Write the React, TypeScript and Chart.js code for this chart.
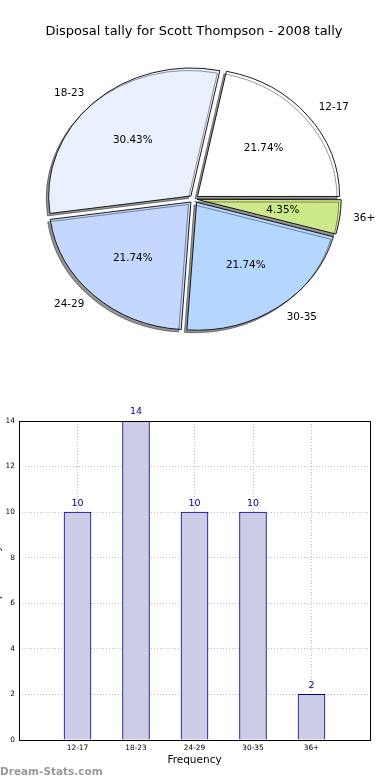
import React, { useEffect, useRef } from 'react';
import { Chart, registerables } from 'chart.js';

Chart.register(...registerables);

// ---- data ----
const categories = ['12-17', '18-23', '24-29', '30-35', '36+'];
const tallies = [10, 14, 10, 10, 2];
const sliceColors = ['#ffffff', '#e9f1ff', '#c3d7ff', '#b4d6ff', '#ccea89'];
const yTicks = [0, 2, 4, 6, 8, 10, 12, 14];
const chartTitle = 'Disposal tally for Scott Thompson - 2008 tally';
const xTitle = 'Frequency';
const yTitle = 'Disposal tally';
const watermark = 'Dream-Stats.com';

const FONT = "'DejaVu Sans', sans-serif";
const PIE_SQUASH = 0.9;
// chart.js arc offset per slice (moves slice by offset/4 px), in original category order
const sliceOffsets = [18, 18, 18, 18, 12];

// pie drawn counter-clockwise from 3 o'clock (as in the original) -> reverse order, clockwise
const pieOrder = categories.map((_, i) => categories.length - 1 - i);
const pieLabels = pieOrder.map((i) => categories[i]);
const pieValues = pieOrder.map((i) => tallies[i]);
const pieColors = pieOrder.map((i) => sliceColors[i]);
const pieOffsets = pieOrder.map((i) => sliceOffsets[i]);

const barLabels = ['', ...categories, ''];
const barValues: (number | null)[] = [null, ...tallies, null];

const piePlugin = {
  id: 'pieStyle',
  beforeDatasetsDraw(chart: any) {
    const ctx = chart.ctx;
    const arc = chart.getDatasetMeta(0).data[0];
    const cx = arc.x;
    const cy = arc.y;
    ctx.save();
    ctx.translate(cx, cy);
    ctx.scale(1, PIE_SQUASH);
    ctx.translate(-cx, -cy);
    ctx.shadowColor = 'rgba(0,0,0,0.42)';
    ctx.shadowOffsetX = -2.5;
    ctx.shadowOffsetY = 2.5;
    ctx.shadowBlur = 0;
  },
  afterDatasetsDraw(chart: any) {
    const ctx = chart.ctx;
    ctx.restore();
    const meta = chart.getDatasetMeta(0);
    const total = pieValues.reduce((a, b) => a + b, 0);
    ctx.save();
    ctx.font = `10.4px ${FONT}`;
    ctx.fillStyle = '#000';
    ctx.textBaseline = 'middle';
    meta.data.forEach((arc: any, i: number) => {
      const t = 4.5;
      const mid = (arc.startAngle + arc.endAngle) / 2;
      const c = Math.cos(mid);
      const s = Math.sin(mid);
      const R = arc.outerRadius;
      const lr = R * 1.1 + t;
      const pr = R * 0.6 + t;
      ctx.textAlign = c >= 0 ? 'left' : 'right';
      ctx.fillText(pieLabels[i], arc.x + c * lr, arc.y + s * lr * PIE_SQUASH);
      ctx.textAlign = 'center';
      const pct = ((pieValues[i] / total) * 100).toFixed(2) + '%';
      ctx.fillText(pct, arc.x + c * pr, arc.y + s * pr * PIE_SQUASH);
    });
    ctx.restore();
  },
};

const barPlugin = {
  id: 'barDeco',
  afterDatasetsDraw(chart: any) {
    const ctx = chart.ctx;
    const meta = chart.getDatasetMeta(0);
    ctx.save();
    ctx.font = `9.5px ${FONT}`;
    ctx.fillStyle = '#00008b';
    ctx.textAlign = 'center';
    ctx.textBaseline = 'middle';
    meta.data.forEach((bar: any, i: number) => {
      const v = barValues[i];
      if (v == null) return;
      ctx.fillText(String(v), bar.x, bar.y - 9);
    });
    ctx.restore();
  },
  afterDraw(chart: any) {
    const { ctx, chartArea: a } = chart;
    ctx.save();
    ctx.strokeStyle = '#000';
    ctx.lineWidth = 1;
    ctx.strokeRect(Math.round(a.left) + 0.5, Math.round(a.top) + 0.5, Math.round(a.right - a.left), Math.round(a.bottom - a.top));
    ctx.restore();
  },
};

export default function App() {
  const pieRef = useRef<HTMLCanvasElement>(null);
  const barRef = useRef<HTMLCanvasElement>(null);

  useEffect(() => {
    const pie = new Chart(pieRef.current as HTMLCanvasElement, {
      type: 'pie',
      data: {
        labels: pieLabels,
        datasets: [
          {
            data: pieValues,
            backgroundColor: pieColors,
            borderColor: '#111',
            borderWidth: 1,
            offset: pieOffsets,
          } as any,
        ],
      },
      options: {
        animation: false,
        responsive: false,
        events: [],
        rotation: 90,
        radius: 142,
        layout: { padding: { left: 0, right: 2, top: 0, bottom: 41.8 } },
        plugins: {
          legend: { display: false },
          tooltip: { enabled: false },
          title: {
            display: true,
            text: chartTitle,
            color: '#000',
            font: { family: FONT, size: 13, weight: 'normal' },
            padding: { top: 24.2, bottom: 0 },
          },
        },
      } as any,
      plugins: [piePlugin],
    });

    const bar = new Chart(barRef.current as HTMLCanvasElement, {
      type: 'bar',
      data: {
        labels: barLabels,
        datasets: [
          {
            data: barValues,
            backgroundColor: '#ccccе6'.replace('е', 'e'),
            borderColor: '#000088',
            borderWidth: 1,
            barThickness: 27,
          } as any,
        ],
      },
      options: {
        animation: false,
        responsive: false,
        events: [],
        layout: { padding: { top: 21, right: 20, bottom: 9, left: 0 } },
        plugins: {
          legend: { display: false },
          tooltip: { enabled: false },
        },
        scales: {
          x: {
            offset: false,
            z: 1,
            grid: { offset: false, drawTicks: false, color: '#bdbdbd', lineWidth: 1 },
            border: { display: false, dash: [1, 2] },
            ticks: { font: { family: FONT, size: 7.4 }, color: '#000', padding: 4, autoSkip: false, maxRotation: 0 },
            title: {
              display: true,
              text: xTitle,
              color: '#000',
              font: { family: FONT, size: 10.5 },
              padding: { top: 0, bottom: 4 },
            },
            afterFit: (s: any) => {
              s.height = 31;
            },
          },
          y: {
            min: 0,
            max: 14,
            z: 1,
            grid: { drawTicks: false, color: '#bdbdbd', lineWidth: 1 },
            border: { display: false, dash: [1, 2] },
            ticks: { font: { family: FONT, size: 7.4 }, color: '#000', padding: 4 },
            afterBuildTicks: (s: any) => {
              s.ticks = yTicks.map((v) => ({ value: v }));
            },
            title: {
              display: true,
              text: yTitle,
              color: '#000',
              font: { family: FONT, size: 10.5 },
              padding: { top: 3, bottom: 3 },
            },
            afterFit: (s: any) => {
              s.width = 31;
            },
          },
        },
      } as any,
      plugins: [barPlugin],
    });

    return () => {
      pie.destroy();
      bar.destroy();
    };
  }, []);

  return (
    <div style={{ position: 'absolute', left: 0, top: 0, width: 390, height: 780, overflow: 'hidden', background: '#fff' }}>
      <canvas ref={pieRef} width={390} height={400} style={{ position: 'absolute', left: 0, top: 0, width: 390, height: 400 }} />
      <canvas ref={barRef} width={402} height={380} style={{ position: 'absolute', left: -12, top: 400, width: 402, height: 380 }} />
      <div
        style={{
          position: 'absolute',
          left: 0,
          top: 763,
          font: `bold 10.5px ${FONT}`,
          color: '#999',
          lineHeight: '16px',
          whiteSpace: 'nowrap',
        }}
      >
        {watermark}
      </div>
    </div>
  );
}
